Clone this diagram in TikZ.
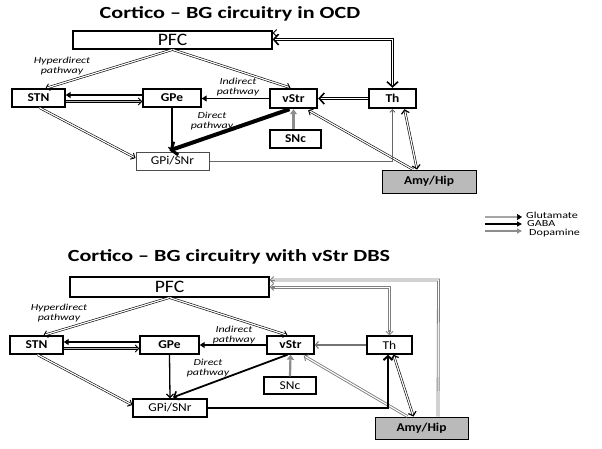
\documentclass[tikz,border=0pt]{standalone}
\usepackage{fontspec}
\setmainfont{Carlito}[FakeStretch=1.12]
\newfontfamily\widefont{Carlito}[FakeStretch=1.3,Ligatures=TeX]
\usetikzlibrary{arrows.meta,calc}
\tikzset{
  bb/.tip={Straight Barb[length=3.5pt,width=8pt,line width=1.2pt]},
  bt/.tip={Straight Barb[length=5pt,width=11pt,line width=1.6pt]},
  bg/.tip={Straight Barb[length=3.5pt,width=7pt,line width=0.9pt]}
}
\begin{document}
\begin{tikzpicture}[x=1pt,y=-1pt,
  box/.style={draw, line width=1.4pt, fill=white, inner sep=0pt, minimum height=18pt,
    font=\fontsize{12}{12}\selectfont\bfseries},
  thinbox/.style={box, line width=1pt},
  lbl/.style={align=center, inner sep=0pt, font=\widefont\fontsize{9.2}{9.6}\selectfont\itshape},
  ttl/.style={inner sep=0pt, font=\widefont\fontsize{17}{18}\selectfont\bfseries},
  leg/.style={anchor=west, inner sep=0pt, font=\widefont\fontsize{9.3}{9.3}\selectfont},
  glu/.style={line width=0.6pt, double=white, double distance=1.2pt, -bg},
  glugray/.style={line width=0.9pt, double=white, double distance=1.1pt, draw=black!50, -bg},
  grayrail/.style={draw=black!50, line width=0.8pt},
  graytip/.style={draw=black!50, line width=0.8pt, -bg},
  glugrayfill/.style={glu, double=black!30},
  gluthick/.style={line width=0.9pt, double=white, double distance=1.6pt, -bt},
  gaba/.style={line width=1.3pt, -{Straight Barb[length=3.5pt,width=7pt,line width=1.2pt]}},
  gabatri/.style={line width=1.3pt, -{Triangle[length=5pt,width=6pt]}},
  gabaxl/.style={line width=4pt, -{Straight Barb[length=5pt,width=14pt,line width=3pt]}},
  dopa/.style={draw=black!45, line width=2.2pt, -{Triangle[length=5pt,width=7pt]}},
  thinln/.style={draw=black!60, line width=0.8pt, -{Straight Barb[length=2.5pt,width=5pt,line width=0.8pt]}}
]
\useasboundingbox (0,0) rectangle (602,448);

% ---------------- top panel ----------------
\node[ttl] (T1) at (230,14) {Cortico – BG circuitry in OCD};
\node[draw, line width=1.2pt, minimum width=199pt, minimum height=18pt, inner sep=0pt,
  font=\fontsize{17.5}{18}\selectfont] (PFCa) at (172.5,40) {PFC};
\node[box, minimum width=53pt] (STNa) at (38.5,98) {STN};
\node[box, minimum width=58pt] (GPea) at (172,98) {GPe};
\node[box, line width=2.4pt, minimum width=47pt, minimum height=19pt] (vStra) at (293.5,98.5) {vStr};
\node[box, minimum width=51pt] (SNca) at (295.5,139) {SNc};
\node[thinbox, draw=black!70, minimum width=73pt] (GPia) at (172.5,161) {\mdseries GPi/SNr};
\node[box, line width=2.4pt, minimum width=47pt, minimum height=19pt] (Tha) at (392.5,98.5) {Th};
\node[box, line width=1pt, fill=black!27, minimum width=94pt, minimum height=23pt] (Amya) at (429,181.5) {Amy/Hip};

\draw[glu] (PFCa.south) -- ($(STNa.north)+(7,0)$);
\draw[glu] (PFCa.south) -- ($(vStra.north)+(-3,0)$);
\node[lbl] (L1a) at (62,66) {Hyperdirect\\pathway};
\node[lbl] (L2a) at (238,87) {Indirect\\pathway};
\node[lbl] (L3a) at (212,121) {Direct\\pathway};
\draw[gabatri] ($(GPea.west)+(0,-3)$) -- ($(STNa.east)+(0,-3)$);
\draw[glugrayfill] ($(STNa.east)+(0,3.5)$) -- ($(GPea.west)+(0,3.5)$);
\draw[gabatri] (vStra.west) -- ($(GPea.east)+(0,0.5)$);
\draw[gaba] (GPea.south) -- ($(GPia.north)+(-0.5,0)$);
\draw[gabaxl] ($(vStra.south)+(-4,0)$) -- ($(GPia.north)+(-3,-1)$);
\draw[glu] ($(STNa.south)+(1,0)$) -- ($(GPia.west)+(0,-3)$);
\draw[dopa] ($(SNca.north)+(-2,0)$) -- (vStra.south);
\draw[gluthick] (Tha.west) -- (vStra.east);
\draw[gluthick, bt-bt] (Tha.north) |- ($(PFCa.east)+(0,-0.5)$);
\draw[glu] ($(Amya.north)+(13,0)$) |- ($(PFCa.east)+(0,-7)$);
\draw[glu, bb-bb] ($(Amya.north)+(-12,0)$) -- ($(Tha.south)+(12,0)$);
\draw[glu] ($(Amya.north)+(-16,0)$) -- ($(vStra.south east)+(-10,1)$);
\draw[thinln] (GPia.east) -| (Tha.south);

% ---------------- legend ----------------
\coordinate (G1) at (485,217); \coordinate (G2) at (522,217);
\coordinate (A1) at (485,224); \coordinate (A2) at (522,224);
\coordinate (D1) at (485,231); \coordinate (D2) at (522,231);
\draw[line width=0.5pt, double=black!35, double distance=1.2pt, -{Triangle[length=5pt,width=6pt]}] (G1) -- (G2);
\draw[line width=1.5pt, -{Triangle[length=5pt,width=5pt]}] (A1) -- (A2);
\draw[draw=black!45, line width=1.5pt, -{Triangle[length=5pt,width=5pt]}] (D1) -- (D2);
\node[leg] (GL) at (526,215.5) {Glutamate};
\node[leg] (AL) at (527,223.5) {GABA};
\node[leg] (DL) at (529,233) {Dopamine};

% ---------------- bottom panel ----------------
\node[ttl] (T2) at (229,257) {Cortico – BG circuitry with vStr DBS};
\node[draw, line width=1.2pt, minimum width=199pt, minimum height=20pt, inner sep=0pt,
  font=\fontsize{17.5}{18}\selectfont] (PFCb) at (169.5,287) {PFC};
\node[box, minimum width=53pt] (STNb) at (36.5,345) {STN};
\node[box, minimum width=59pt] (GPeb) at (169.5,345) {GPe};
\node[box, minimum width=47pt] (vStrb) at (290.5,345) {vStr};
\node[box, minimum width=52pt, minimum height=17pt] (SNcb) at (290,385.5) {\mdseries SNc};
\node[box, minimum width=74pt] (GPib) at (170,408) {\mdseries GPi/SNr};
\node[box, minimum width=45pt] (Thb) at (389.5,345) {\mdseries Th};
\node[box, line width=1pt, fill=black!27, minimum width=93pt, minimum height=22pt] (Amyb) at (421.5,428) {Amy/Hip};

\draw[glu] (PFCb.south) -- ($(STNb.north)+(7,0)$);
\draw[glu] (PFCb.south) -- ($(vStrb.north)+(-3,0)$);
\node[lbl] (L1b) at (59,313) {Hyperdirect\\pathway};
\node[lbl] (L2b) at (234,335) {Indirect\\pathway};
\node[lbl] (L3b) at (208,368) {Direct\\pathway};
\draw[gabatri] ($(GPeb.west)+(0,-3)$) -- ($(STNb.east)+(0,-3)$);
\draw[glugrayfill] ($(STNb.east)+(0,3.5)$) -- ($(GPeb.west)+(0,3.5)$);
\draw[gabatri] (vStrb.west) -- (GPeb.east);
\draw[gaba] (GPeb.south) -- (GPib.north);
\draw[line width=1.8pt, -{Straight Barb[length=4pt,width=9pt,line width=1.6pt]}]
  ($(vStrb.south)+(-3,0)$) -- ($(GPib.north)+(3,-1)$);
\draw[glu] ($(STNb.south)+(1,0)$) -- ($(GPib.west)+(0,-3)$);
\draw[dopa] (SNcb.north) -- (vStrb.south);
\draw[draw=black!55, line width=1.2pt, -{Straight Barb[length=3pt,width=7pt,line width=1.1pt]}] (Thb.west) -- (vStrb.east);
% Th <-> PFC (gray glutamate, drawn as two rails)
\coordinate (TN) at (Thb.north);
\coordinate (PE) at (PFCb.east);
\draw[grayrail] ($(TN)+(-1,-3)$) -- (388.5,288) -- ($(PE)+(2,1)$);
\draw[grayrail] ($(TN)+(1,-3)$) -- (390.5,286) -- ($(PE)+(2,-1)$);
\draw[graytip] ($(TN)+(0,-5)$) -- (TN);
\draw[graytip] ($(PE)+(5,0)$) -- (PE);
% Amy -> PFC (gray glutamate, two rails)
\coordinate (AN) at (Amyb.north);
\draw[grayrail] ($(AN)+(15.5,0)$) -- (437.5,281) -- ($(PE)+(2,-6)$);
\draw[grayrail] ($(AN)+(17.5,0)$) -- (439.5,279) -- ($(PE)+(2,-8)$);
\draw[graytip] ($(PE)+(5,-7)$) -- ($(PE)+(0,-7)$);
\draw[glu, bb-bb] ($(Amyb.north)+(-8,0)$) -- ($(Thb.south)+(4,0)$);
\draw[glugray] ($(Amyb.north)+(-14,0)$) -- ($(vStrb.south east)+(-11,1)$);
\draw[line width=2.4pt, -{Straight Barb[length=4pt,width=9pt,line width=2pt]}] (GPib.east) -| ($(Thb.south)+(-1.5,0)$);
\end{tikzpicture}
\end{document}
